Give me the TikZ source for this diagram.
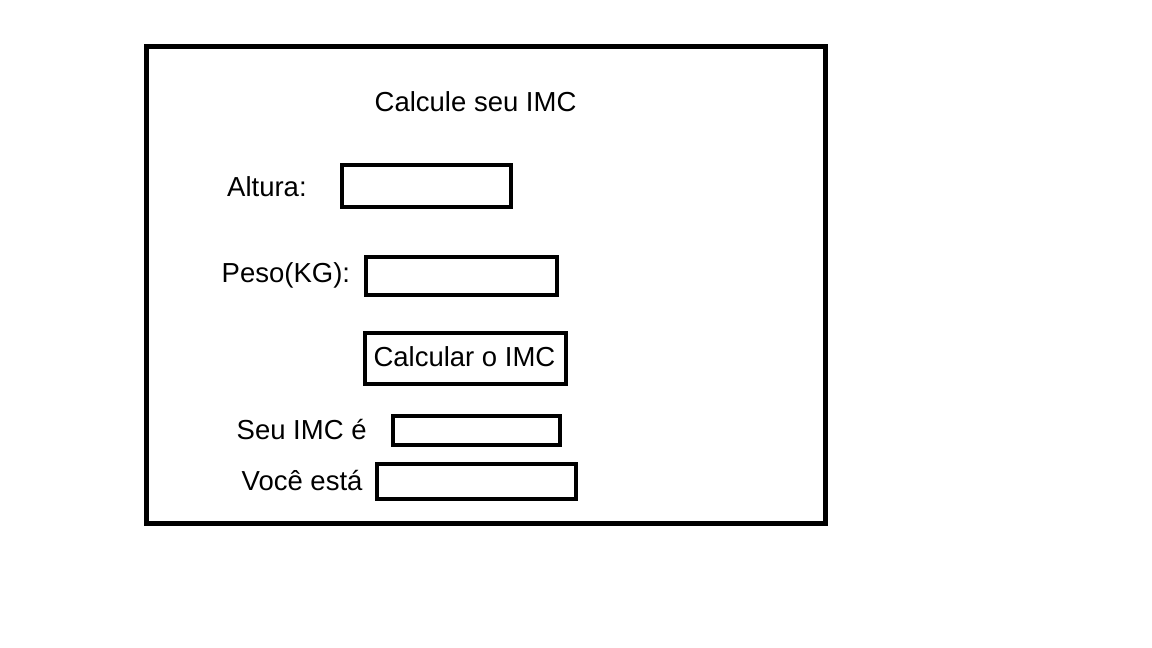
\documentclass[tikz,border=0pt]{standalone}
\usepackage{fontspec}
\setmainfont{Liberation Sans}
\begin{document}
\begin{tikzpicture}[x=1pt,y=-1pt,
  lbl/.style={anchor=base west,inner sep=0pt,font=\fontsize{27.5}{32}\selectfont},
  fieldbox/.style={draw=black,line width=4pt,rectangle,inner sep=0pt},
  frame/.style={draw=black,line width=4.6pt}]
\useasboundingbox[fill=white] (0,0) rectangle (1152,648);
\node[frame,rectangle,inner sep=0pt,minimum width=679pt,minimum height=477pt] (win) at (485.8,284.8) {};
\node[lbl] (title) at (374.5,111) {Calcule seu IMC};
\node[lbl] (laltura) at (227,196) {Altura:};
\node[fieldbox,minimum width=168.7pt,minimum height=41.4pt] (faltura) at (426.4,186) {};
\node[lbl] (lpeso) at (221.5,282) {Peso(KG):};
\node[fieldbox,minimum width=190.7pt,minimum height=37.7pt] (fpeso) at (461.4,275.9) {};
\node[fieldbox,minimum width=200.4pt,minimum height=51.6pt] (btn) at (465.5,358.5) {};
\node[lbl] (btntext) at (373.3,366.7) {Calcular o IMC};
\node[lbl] (limc) at (236.5,439) {Seu IMC é};
\node[fieldbox,minimum width=167pt,minimum height=28.4pt] (fimc) at (476.5,430.5) {};
\node[lbl] (lestado) at (241.5,490) {Você está};
\node[fieldbox,minimum width=198.7pt,minimum height=34.7pt] (festado) at (476.4,481.7) {};
\end{tikzpicture}
\end{document}
